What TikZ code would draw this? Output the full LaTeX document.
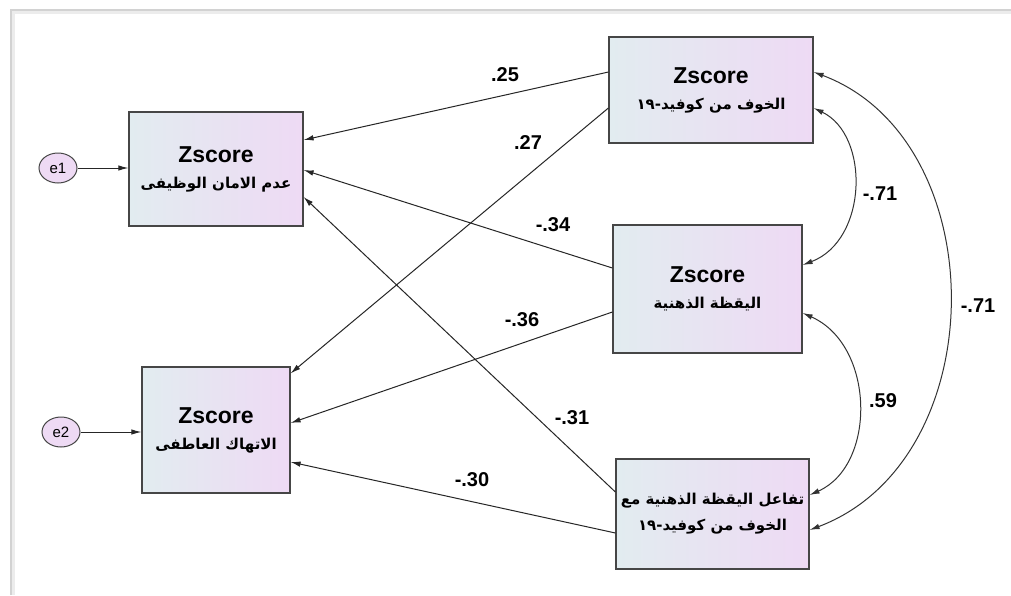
\documentclass[tikz,border=0pt]{standalone}
\usepackage{fontspec}
\setmainfont{Liberation Sans}
\newfontfamily\arabicfont[Script=Arabic]{DejaVu Sans}
\TeXXeTstate=1
\usetikzlibrary{arrows.meta,shapes.geometric}
\definecolor{boxL}{RGB}{226,236,240}
\definecolor{boxR}{RGB}{238,218,244}
\definecolor{edgecol}{RGB}{70,70,70}
\newcommand{\zsf}{\bfseries\fontsize{23}{26}\selectfont}
\newcommand{\arf}{\arabicfont\bfseries\fontsize{15}{26}\selectfont}
\tikzset{
  var/.style={draw=edgecol, line width=1.2pt, shading=axis, shading angle=60, left color=boxL, right color=boxR, align=center, inner sep=0pt, font=\fontsize{20}{26}\selectfont},
  err/.style={ellipse, draw=edgecol, line width=1pt, fill=boxR, minimum width=38pt, minimum height=30pt, inner sep=0pt, font=\fontsize{15}{17}\selectfont},
  pathar/.style={-{Latex[length=10pt,width=5.5pt]}, line width=1pt, draw=black!85},
  covar/.style={{Latex[length=10pt,width=5.5pt]}-{Latex[length=10pt,width=5.5pt]}, line width=1pt, draw=black!80},
  coef/.style={font=\bfseries\fontsize{20}{22}\selectfont, inner sep=0pt}
}
\begin{document}
\begin{tikzpicture}[x=1pt,y=-1pt]
\useasboundingbox (0,0) rectangle (1011,595);
\fill[white] (0,0) rectangle (1011,595);
\draw[gray!15, line width=4pt] (13,595) -- (13,12) -- (1011,12);
\draw[gray!35, line width=1.5pt] (11,595) -- (11,10) -- (1011,10);

\node[var, minimum width=174pt, minimum height=114pt] (A) at (216,169)
  {{\zsf Zscore}\\{\arf\beginR عدم الامان الوظيفى\endR}};
\node[var, minimum width=148pt, minimum height=126pt] (E) at (216,430)
  {{\zsf Zscore}\\{\arf\beginR الاتهاك العاطفى\endR}};
\node[var, minimum width=204pt, minimum height=106pt] (F) at (711,90)
  {{\zsf Zscore}\\{\arf\beginR الخوف من كوفيد-١٩\endR}};
\node[var, minimum width=189pt, minimum height=128pt] (M) at (707.5,289)
  {{\zsf Zscore}\\{\arf\beginR اليقظة الذهنية\endR}};
\node[var, minimum width=193pt, minimum height=110pt] (I) at (712.5,514)
  {{\arf\beginR تفاعل اليقظة الذهنية مع\endR}\\{\arf\beginR الخوف من كوفيد-١٩\endR}};

\node[err] (e1) at (58,168) {e1};
\node[err] (e2) at (61,432) {e2};

\draw[pathar] (e1.east) -- (e1.east -| A.west);
\draw[pathar] (e2.east) -- (e2.east -| E.west);

\draw[pathar] ([yshift=18pt]F.west) -- ([yshift=29pt]A.east);
\draw[pathar] ([yshift=-18pt]F.west) -- ([yshift=-7pt]E.north east);
\draw[pathar] ([yshift=21pt]M.west) -- ([yshift=-1pt]A.east);
\draw[pathar] ([yshift=22pt]I.west) -- ([yshift=-28pt]A.east);
\draw[pathar] ([yshift=-23pt]M.west) -- ([yshift=7pt]E.east);
\draw[pathar] ([yshift=-19pt]I.west) -- ([yshift=-32pt]E.east);

\draw[covar] ([yshift=-18pt]F.east) .. controls (870,135) and (868,240) .. ([yshift=24pt]M.east);
\draw[covar] ([yshift=-24pt]M.east) .. controls (875,345) and (877,465) .. ([yshift=19pt]I.east);
\draw[covar] ([yshift=18pt]F.east) .. controls (995,140) and (995,460) .. ([yshift=-16pt]I.east);

\node[coef] (c1) at (505,75) {.25};
\node[coef] (c2) at (528,143) {.27};
\node[coef] (c3) at (553,225) {-.34};
\node[coef] (c4) at (522,320) {-.36};
\node[coef] (c5) at (572,418) {-.31};
\node[coef] (c6) at (472,480) {-.30};
\node[coef] (c7) at (880,194) {-.71};
\node[coef] (c8) at (883,401) {.59};
\node[coef] (c9) at (978,306) {-.71};
\end{tikzpicture}
\end{document}
